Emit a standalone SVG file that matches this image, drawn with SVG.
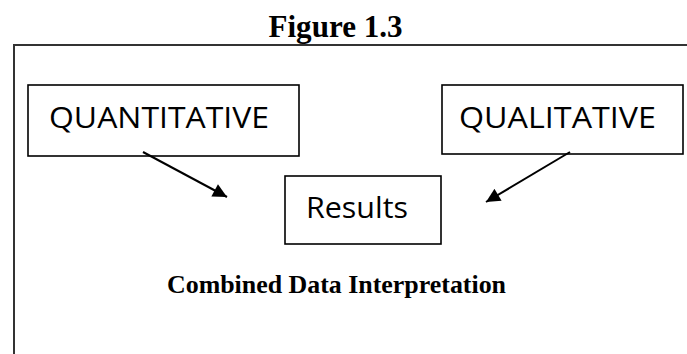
<svg xmlns="http://www.w3.org/2000/svg" width="687" height="354" viewBox="0 0 687 354">
  <style>
    .frame { fill: none; stroke: #333; stroke-width: 2; }
    .box { fill: #fff; stroke: #000; stroke-width: 1.6; }
    .label { font-family: "Open Sans", "Liberation Sans", sans-serif; font-size: 30px; fill: #000; }
    .heading { font-family: "Liberation Serif", "Times New Roman", serif; font-weight: bold; fill: #000; text-anchor: middle; }
    .edge { stroke: #000; stroke-width: 2; fill: none; marker-end: url(#arrow); }
  </style>
  <defs>
    <marker id="arrow" viewBox="0 0 10 10" refX="10" refY="5" markerWidth="8" markerHeight="7" markerUnits="strokeWidth" orient="auto">
      <path d="M0,0 L10,5 L0,10 z" fill="#000"/>
    </marker>
  </defs>
  <rect width="687" height="354" fill="#fff"/>

  <!-- caption -->
  <text class="heading" x="335.5" y="37" font-size="32" textLength="134" lengthAdjust="spacingAndGlyphs">Figure 1.3</text>

  <!-- outer frame: open on the right and bottom -->
  <path class="frame" d="M14,354 V45 H687"/>

  <g id="quantitative">
    <rect class="box" x="28" y="85" width="271" height="71"/>
    <text class="label" x="49" y="128" textLength="220" lengthAdjust="spacingAndGlyphs">QUANTITATIVE</text>
  </g>

  <g id="qualitative">
    <rect class="box" x="442" y="85" width="241" height="69"/>
    <text class="label" x="459" y="128" textLength="197" lengthAdjust="spacingAndGlyphs">QUALITATIVE</text>
  </g>

  <g id="results">
    <rect class="box" x="285" y="176" width="156" height="68"/>
    <text class="label" x="306" y="218" textLength="102" lengthAdjust="spacingAndGlyphs">Results</text>
  </g>

  <g id="connectors">
    <line class="edge" x1="143" y1="152" x2="227" y2="197"/>
    <line class="edge" x1="570" y1="152" x2="486" y2="202"/>
  </g>

  <text class="heading" x="336.5" y="293" font-size="26" textLength="339" lengthAdjust="spacingAndGlyphs">Combined Data Interpretation</text>
</svg>
